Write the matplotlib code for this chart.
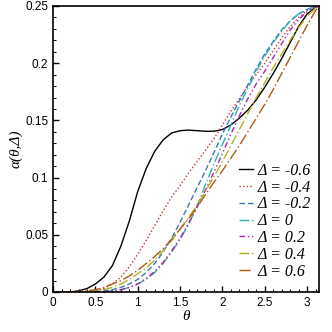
import numpy as np
import matplotlib
matplotlib.use('Agg')
import matplotlib.pyplot as plt
from matplotlib.ticker import MultipleLocator, FormatStrFormatter

# theta grid (0 .. 3.1 step 0.1, then pi)
theta = [0.0, 0.1, 0.2, 0.3, 0.4, 0.5, 0.6, 0.7, 0.8, 0.9, 1.0, 1.1, 1.2, 1.3, 1.4, 1.5,
         1.6, 1.7, 1.8, 1.9, 2.0, 2.1, 2.2, 2.3, 2.4, 2.5, 2.6, 2.7, 2.8, 2.9, 3.0, 3.1, np.pi]

a_m06 = [0, 0, 0, 0.001, 0.003, 0.007, 0.013, 0.023, 0.040, 0.062, 0.088, 0.108, 0.123, 0.133, 0.139, 0.141,
         0.1415, 0.141, 0.1405, 0.1405, 0.142, 0.146, 0.152, 0.159, 0.168, 0.179, 0.191, 0.204, 0.218, 0.232, 0.243, 0.249, 0.25]
a_m04 = [0, 0, 0, 0, 0, 0.001, 0.003, 0.007, 0.013, 0.022, 0.033, 0.045, 0.058, 0.071, 0.083, 0.093,
         0.104, 0.114, 0.124, 0.134, 0.146, 0.158, 0.169, 0.180, 0.190, 0.200, 0.211, 0.222, 0.232, 0.240, 0.246, 0.2495, 0.25]
a_m02 = [0, 0, 0, 0, 0, 0.0005, 0.001, 0.002, 0.004, 0.007, 0.011, 0.017, 0.025, 0.035, 0.047, 0.061,
         0.076, 0.091, 0.106, 0.122, 0.138, 0.153, 0.167, 0.181, 0.195, 0.208, 0.219, 0.229, 0.237, 0.243, 0.247, 0.2495, 0.25]
a_0 = [0, 0, 0, 0, 0, 0, 0.0005, 0.001, 0.002, 0.004, 0.007, 0.011, 0.017, 0.025, 0.035, 0.046,
       0.059, 0.075, 0.094, 0.112, 0.129, 0.146, 0.163, 0.178, 0.193, 0.206, 0.218, 0.228, 0.237, 0.243, 0.247, 0.2495, 0.25]
a_p02 = [0, 0, 0, 0, 0, 0, 0.0005, 0.001, 0.002, 0.004, 0.007, 0.012, 0.018, 0.026, 0.036, 0.047,
         0.060, 0.074, 0.089, 0.105, 0.121, 0.138, 0.154, 0.169, 0.182, 0.193, 0.205, 0.217, 0.229, 0.238, 0.245, 0.249, 0.25]
a_p04 = [0, 0, 0, 0, 0.0005, 0.001, 0.002, 0.004, 0.007, 0.011, 0.016, 0.021, 0.028, 0.036, 0.045, 0.055,
         0.065, 0.076, 0.088, 0.101, 0.114, 0.128, 0.142, 0.156, 0.170, 0.183, 0.196, 0.208, 0.220, 0.231, 0.241, 0.248, 0.25]
a_p06 = [0, 0, 0, 0.0005, 0.001, 0.002, 0.004, 0.007, 0.010, 0.014, 0.019, 0.025, 0.031, 0.038, 0.046, 0.055,
         0.064, 0.074, 0.085, 0.096, 0.106, 0.117, 0.128, 0.140, 0.152, 0.164, 0.177, 0.191, 0.205, 0.219, 0.233, 0.246, 0.25]

labels = ['Δ = -0.6', 'Δ = -0.4', 'Δ = -0.2', 'Δ = 0', 'Δ = 0.2', 'Δ = 0.4', 'Δ = 0.6']
series = [a_m06, a_m04, a_m02, a_0, a_p02, a_p04, a_p06]
colors = ['black', '#cc3333', '#3a78b4', '#2ab2b2', '#b020b0', '#b2b020', '#b05a10']
styles = ['-', (0, (1, 1.6)), (0, (4, 2)), (0, (7, 2, 1, 2)), (0, (4, 2, 1, 2, 1, 2)),
          (0, (7, 2, 1, 2)), (0, (8, 2, 1, 2))]

plt.rcParams['font.family'] = ['Liberation Sans', 'DejaVu Sans']

fig = plt.figure(figsize=(3.32, 3.32), dpi=100)
ax = fig.add_axes([0.16, 0.1205, 0.801, 0.8615])

for y, lab, c, ls in zip(series, labels, colors, styles):
    ax.plot(theta, y, color=c, linestyle=ls, linewidth=1.0, label=lab)

ax.set_xlim(0, np.pi)
ax.set_ylim(0, 0.25)
ax.xaxis.set_major_locator(MultipleLocator(0.5))
ax.xaxis.set_minor_locator(MultipleLocator(0.1))
ax.yaxis.set_major_locator(MultipleLocator(0.05))
ax.yaxis.set_minor_locator(MultipleLocator(0.01))
ax.xaxis.set_major_formatter(FormatStrFormatter('%g'))
ax.yaxis.set_major_formatter(FormatStrFormatter('%g'))
ax.tick_params(which='both', direction='in', top=False, right=False, labelsize=8.5)
ax.tick_params(which='major', length=4, width=1.0)
ax.tick_params(which='minor', length=2, width=0.8)
for s in ax.spines.values():
    s.set_linewidth(1.2)

serif = ['Liberation Serif', 'DejaVu Serif']
ax.set_xlabel('θ', family=serif, style='italic', fontsize=11, labelpad=1)
ax.set_ylabel('α(θ,Δ)', family=serif, style='italic', fontsize=11, labelpad=2)

leg = ax.legend(loc='upper left', bbox_to_anchor=(0.70, 0.452), frameon=False,
                prop={'family': serif, 'style': 'italic', 'size': 11.5},
                handlelength=0.85, handletextpad=0.3, labelspacing=0.05,
                borderpad=0, borderaxespad=0)

fig.savefig('out.png', dpi=100)
